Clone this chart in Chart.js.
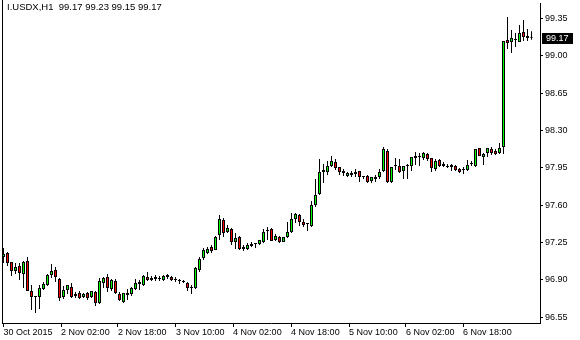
<!DOCTYPE html>
<html>
<head>
<meta charset="utf-8">
<script src="https://cdn.jsdelivr.net/npm/chart.js@4.4.0/dist/chart.umd.min.js"></script>
<style>
html, body { margin: 0; padding: 0; background: #fff; }
#wrap { position: relative; width: 580px; height: 340px; }
#chart { display: block; }
#header {
    position: absolute; left: 7px; top: 1px;
    font: 9.5px "Liberation Sans", Arial, sans-serif;
    color: #000; white-space: pre;
}
</style>
</head>
<body>
<div id="wrap">
    <canvas id="chart" width="580" height="340"></canvas>
    <div id="header"></div>
</div>
<script>
// I.USDX, H1 bars (oldest first)
const symbol = 'I.USDX';
const period = 'H1';

const open = [
    97.113, 97.150, 97.066, 96.982, 97.028, 96.953, 97.075, 96.794, 96.738, 96.738,
    96.813, 96.850, 96.944, 96.991, 96.906, 96.738, 96.803, 96.831, 96.766, 96.775,
    96.738, 96.775, 96.738, 96.785, 96.681, 96.869, 96.925, 96.813, 96.888, 96.766,
    96.691, 96.756, 96.766, 96.813, 96.878, 96.850, 96.925, 96.897, 96.906, 96.906,
    96.897, 96.925, 96.925, 96.897, 96.888, 96.878, 96.869, 96.822, 96.822, 96.991,
    97.103, 97.150, 97.207, 97.179, 97.319, 97.460, 97.347, 97.376, 97.254, 97.300,
    97.188, 97.188, 97.216, 97.235, 97.235, 97.254, 97.357, 97.376, 97.272, 97.300,
    97.254, 97.300, 97.347, 97.469, 97.507, 97.441, 97.422, 97.404, 97.601, 97.704,
    97.910, 97.910, 97.966, 98.004, 97.957, 97.920, 97.873, 97.882, 97.891, 97.920,
    97.863, 97.873, 97.826, 97.863, 97.863, 97.920, 98.107, 97.816, 97.966, 97.966,
    97.920, 97.966, 97.966, 98.042, 98.051, 98.042, 98.079, 98.042, 97.938, 98.023,
    97.985, 97.966, 97.957, 97.966, 97.938, 97.929, 97.929, 97.985, 97.966, 98.135,
    98.051, 98.088, 98.126, 98.107, 98.088, 98.145, 99.149, 99.130, 99.149, 99.130,
    99.224, 99.167, 99.17
];
const high = [
    97.197, 97.160, 97.066, 97.057, 97.057, 97.075, 97.113, 96.850, 96.747, 96.850,
    96.878, 96.953, 97.047, 97.019, 96.916, 96.841, 96.850, 96.869, 96.785, 96.794,
    96.775, 96.785, 96.794, 96.794, 96.916, 96.925, 96.953, 96.906, 96.906, 96.785,
    96.775, 96.813, 96.831, 96.906, 96.897, 96.944, 96.972, 96.935, 96.944, 96.935,
    96.944, 96.953, 96.935, 96.925, 96.906, 96.897, 96.878, 96.850, 97.019, 97.113,
    97.197, 97.207, 97.225, 97.310, 97.507, 97.479, 97.413, 97.385, 97.338, 97.310,
    97.225, 97.244, 97.254, 97.244, 97.272, 97.376, 97.394, 97.385, 97.329, 97.310,
    97.300, 97.441, 97.526, 97.526, 97.516, 97.469, 97.432, 97.638, 97.845, 98.032,
    97.985, 98.013, 98.060, 98.032, 97.957, 97.938, 97.910, 97.920, 97.938, 97.920,
    97.873, 97.882, 97.863, 97.882, 97.938, 98.145, 98.126, 97.957, 98.042, 98.032,
    97.966, 97.985, 98.051, 98.098, 98.088, 98.098, 98.088, 98.042, 98.032, 98.032,
    98.004, 97.985, 97.985, 97.976, 97.948, 97.957, 98.023, 98.013, 98.126, 98.135,
    98.088, 98.135, 98.145, 98.126, 98.182, 99.139, 99.364, 99.242, 99.214, 99.289,
    99.336, 99.252, 99.23
];
const low = [
    97.057, 97.028, 96.935, 96.953, 96.897, 96.822, 96.794, 96.616, 96.588, 96.625,
    96.803, 96.841, 96.916, 96.878, 96.700, 96.719, 96.766, 96.728, 96.728, 96.719,
    96.728, 96.709, 96.728, 96.653, 96.672, 96.822, 96.785, 96.794, 96.766, 96.700,
    96.681, 96.709, 96.747, 96.803, 96.803, 96.841, 96.888, 96.888, 96.888, 96.888,
    96.888, 96.906, 96.888, 96.878, 96.860, 96.869, 96.794, 96.766, 96.813, 96.972,
    97.085, 97.141, 97.150, 97.179, 97.272, 97.300, 97.338, 97.225, 97.188, 97.179,
    97.169, 97.179, 97.207, 97.197, 97.225, 97.244, 97.272, 97.263, 97.263, 97.244,
    97.254, 97.291, 97.338, 97.432, 97.404, 97.394, 97.357, 97.394, 97.582, 97.694,
    97.807, 97.882, 97.957, 97.929, 97.882, 97.873, 97.863, 97.863, 97.863, 97.816,
    97.845, 97.807, 97.807, 97.816, 97.845, 97.910, 97.807, 97.807, 97.929, 97.901,
    97.845, 97.845, 97.920, 97.976, 97.966, 98.023, 98.013, 97.910, 97.920, 97.957,
    97.957, 97.948, 97.920, 97.920, 97.901, 97.891, 97.920, 97.966, 97.957, 98.060,
    97.976, 98.051, 98.070, 98.070, 98.079, 98.079, 99.064, 99.027, 99.083, 99.130,
    99.139, 99.139, 99.15
];
const close = [
    97.141, 97.057, 96.982, 97.019, 96.963, 97.066, 96.794, 96.738, 96.747, 96.822,
    96.860, 96.944, 96.982, 96.925, 96.728, 96.803, 96.850, 96.738, 96.747, 96.728,
    96.766, 96.728, 96.794, 96.681, 96.888, 96.916, 96.822, 96.897, 96.775, 96.709,
    96.775, 96.775, 96.822, 96.869, 96.860, 96.935, 96.897, 96.916, 96.925, 96.906,
    96.935, 96.944, 96.897, 96.897, 96.888, 96.878, 96.822, 96.822, 97.010, 97.094,
    97.179, 97.188, 97.169, 97.300, 97.469, 97.338, 97.385, 97.254, 97.291, 97.188,
    97.207, 97.225, 97.235, 97.244, 97.272, 97.347, 97.357, 97.263, 97.310, 97.254,
    97.300, 97.347, 97.469, 97.516, 97.441, 97.413, 97.422, 97.601, 97.694, 97.910,
    97.929, 97.966, 98.013, 97.948, 97.910, 97.901, 97.901, 97.901, 97.910, 97.863,
    97.863, 97.816, 97.863, 97.845, 97.910, 98.126, 97.816, 97.957, 97.966, 97.910,
    97.966, 97.966, 98.051, 98.060, 98.051, 98.088, 98.032, 97.948, 98.013, 97.966,
    97.966, 97.957, 97.976, 97.929, 97.910, 97.929, 97.976, 97.985, 98.126, 98.060,
    98.079, 98.135, 98.088, 98.079, 98.135, 99.139, 99.120, 99.167, 99.149, 99.214,
    99.177, 99.186, 99.17
];

// time axis labels and where they sit (in bars from the first one)
const timeLabels = ['30 Oct 2015', '2 Nov 02:00', '2 Nov 18:00', '3 Nov 10:00', '4 Nov 02:00',
                    '4 Nov 18:00', '5 Nov 10:00', '6 Nov 02:00', '6 Nov 18:00'];
const timePos = [0, 14.4, 28.6, 43.1, 57.4, 71.9, 86.4, 100.6, 114.9];
// price axis labels
const priceTicks = [96.55, 96.90, 97.25, 97.60, 97.95, 98.30, 98.65, 99.00, 99.35];

const font = { family: '"Liberation Sans", Arial, sans-serif', size: 9 };
const bullColor = '#00ff00';
const bearColor = '#ff0000';

const last = close.length - 1;
document.getElementById('header').textContent =
    `${symbol},${period}  ${open[last].toFixed(2)} ${high[last].toFixed(2)} ${low[last].toFixed(2)} ${close[last].toFixed(2)}`;

const bodies = open.map((o, i) => ({ x: i, y: [o, close[i]] }));
const wicks = open.map((o, i) => ({ x: i, y: [low[i], high[i]] }));
const bodyColors = open.map((o, i) => close[i] > o ? bullColor : (close[i] < o ? bearColor : '#000'));

// frame on the left and the black last-price tag on the price axis
const frameAndTag = {
    id: 'frameAndTag',
    afterDraw(chart) {
        const { ctx, chartArea, scales } = chart;
        ctx.save();
        ctx.strokeStyle = '#000';
        ctx.lineWidth = 1;
        ctx.beginPath();
        ctx.moveTo(chartArea.left + 0.5, 0);
        ctx.lineTo(chartArea.left + 0.5, chartArea.bottom);
        ctx.stroke();

        const v = close[last];
        const py = Math.round(scales.y.getPixelForValue(v));
        ctx.fillStyle = '#000';
        ctx.fillRect(chartArea.right + 2, py - 5, 31, 11);
        ctx.fillStyle = '#fff';
        ctx.font = '9px "Liberation Sans", Arial, sans-serif';
        ctx.textBaseline = 'middle';
        ctx.fillText(v.toFixed(2), chartArea.right + 6, py + 0.5);
        ctx.restore();
    }
};

new Chart(document.getElementById('chart'), {
    type: 'bar',
    data: {
        datasets: [{
            label: 'body',
            data: bodies,
            backgroundColor: bodyColors,
            borderColor: '#000',
            borderWidth: 1,
            borderSkipped: false,
            barThickness: 3,
            minBarLength: 1,
            inflateAmount: 0,
            grouped: false
        }, {
            label: 'wick',
            data: wicks,
            backgroundColor: '#000',
            borderWidth: 0,
            barThickness: 1,
            inflateAmount: 0,
            grouped: false
        }]
    },
    options: {
        responsive: false,
        animation: false,
        layout: { padding: { left: 2, top: 3, right: 0, bottom: 0 } },
        plugins: {
            legend: { display: false },
            tooltip: { enabled: false }
        },
        scales: {
            x: {
                type: 'linear',
                min: -0.375,
                max: 134.125,
                offset: false,
                bounds: 'data',
                grid: { drawOnChartArea: false, tickLength: 4, color: '#000', offset: false },
                border: { color: '#000' },
                afterBuildTicks: s => { s.ticks = timePos.map(v => ({ value: v })); },
                afterFit: s => { s.height = 17; s.paddingLeft = 0; s.paddingRight = 0; },
                ticks: {
                    autoSkip: false,
                    maxRotation: 0,
                    align: 'start',
                    padding: 0,
                    color: '#000',
                    font: font,
                    callback: (v, i) => timeLabels[i]
                }
            },
            y: {
                position: 'right',
                min: 96.494,
                max: 99.495,
                bounds: 'data',
                grid: { drawOnChartArea: false, tickLength: 3, color: '#000' },
                border: { color: '#000' },
                afterBuildTicks: s => { s.ticks = priceTicks.map(v => ({ value: v })); },
                afterFit: s => { s.width = 40; s.paddingTop = 0; s.paddingBottom = 0; },
                ticks: {
                    padding: 2,
                    color: '#000',
                    font: font,
                    callback: v => v.toFixed(2)
                }
            }
        }
    },
    plugins: [frameAndTag]
});
</script>
</body>
</html>
